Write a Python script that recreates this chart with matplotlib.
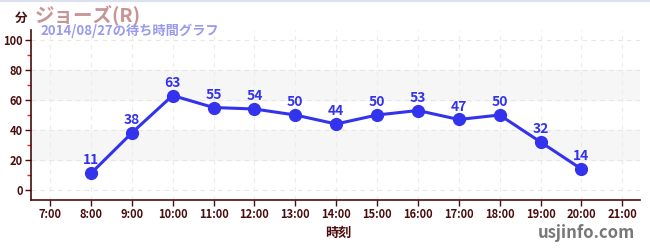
import matplotlib
matplotlib.use("Agg")
import matplotlib.pyplot as plt

plt.rcParams['font.family'] = ['Noto Sans CJK JP', 'DejaVu Sans']

# DATA
hours = [8, 9, 10, 11, 12, 13, 14, 15, 16, 17, 18, 19, 20]
waits = [11, 38, 63, 55, 54, 50, 44, 50, 53, 47, 50, 32, 14]
tick_hours = list(range(7, 22))
tick_labels = [f"{h}:00" for h in tick_hours]
y_ticks = [0, 20, 40, 60, 80, 100]

dark = "#4a0d0d"
blue = "#3333ee"

fig = plt.figure(figsize=(6.5, 2.5), dpi=100)
ax = fig.add_axes([0.048, 0.2, 0.937, 0.68])

# BANDS AND GRID
for lo, hi in [(20, 40), (60, 80)]:
    ax.axhspan(lo, hi, color="#f6f6f6", zorder=0)
for y in y_ticks:
    ax.axhline(y, color="#e6e6e6", lw=0.8, ls=(0, (4, 4)), zorder=0.5)
for h in tick_hours:
    ax.axvline(h, color="#ececec", lw=0.8, ls=(0, (4, 4)), zorder=0.5)

# LINE
ax.plot(hours, waits, color=blue, lw=2.2, marker="o", ms=8.5, zorder=3)
for h, w in zip(hours, waits):
    ax.text(h, w + 4, str(w), color=blue, ha="center", va="bottom",
            fontsize=10, fontweight="bold", zorder=4)

ax.set_xlim(6.54, 21.44)
ax.set_ylim(-6.7, 106.7)
ax.set_xticks(tick_hours)
ax.set_xticklabels(tick_labels)
ax.set_yticks(y_ticks)
ax.set_yticks([10, 30, 50, 70, 90], minor=True)
ax.tick_params(axis="both", colors=dark, labelsize=8, length=4, width=1, pad=2)
ax.tick_params(axis="y", which="minor", colors="#dd2222", length=3, width=1)
for lab in ax.get_xticklabels() + ax.get_yticklabels():
    lab.set_fontweight("bold")

for side in ["top", "right"]:
    ax.spines[side].set_visible(False)
for side in ["left", "bottom"]:
    ax.spines[side].set_color(dark)
    ax.spines[side].set_linewidth(1.2)

# TEXTS
fig.text(15 / 650, 1 - 18 / 250, "分", color=dark, fontsize=9, fontweight="bold", va="center")
fig.text(35 / 650, 1 - 15 / 250, "ジョーズ(R)", color="#c89494", fontsize=14, fontweight="bold", va="center")
fig.text(40 / 650, 1 - 31 / 250, "2014/08/27の待ち時間グラフ", color="#9999ee", fontsize=9.5,
         fontweight="bold", va="center")
fig.text(338 / 650, 1 - 233 / 250, "時刻", color=dark, fontsize=9.5, fontweight="bold", ha="center", va="center")
fig.text(635 / 650, 1 - 233 / 250, "usjinfo.com", color="#777777", fontsize=12, fontweight="bold", ha="right", va="center")
fig.add_artist(plt.Line2D([0, 1], [0.996, 0.996], color="#dde0f0", lw=1.5))

plt.savefig("out.png")
